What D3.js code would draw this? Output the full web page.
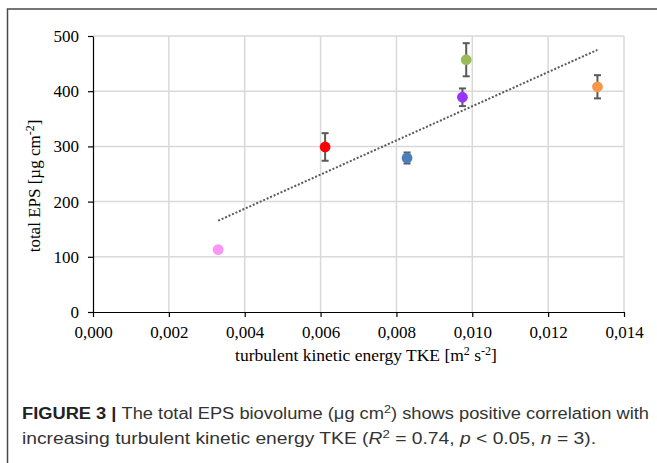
<!DOCTYPE html>
<html>
<head>
<meta charset="utf-8">
<script src="https://cdn.jsdelivr.net/npm/d3@7"></script>
<style>
  html, body { margin: 0; padding: 0; background: #fff; }
  svg { display: block; }
</style>
</head>
<body>
<svg id="chart" width="657" height="463"></svg>
<script>
// ---- data ----
const seriesNames = ["S1", "S2", "S3", "S4", "S5", "S6"];
const tkeValues = [0.00330, 0.00612, 0.00828, 0.00974, 0.00984, 0.01330];
const epsValues = [113, 299, 279, 389, 457, 408];
const epsErrors = [4, 25, 10, 16, 30, 21];
const pointColors = ["#fa96f5", "#ff0000", "#4a7ebb", "#9933ff", "#9bbb59", "#f79646"];
const xTicks = [0, 0.002, 0.004, 0.006, 0.008, 0.010, 0.012, 0.014];
const yTicks = [0, 100, 200, 300, 400, 500];

const svg = d3.select("#chart");
const serif = "'Liberation Serif', 'Times New Roman', serif";
const sans = "'Liberation Sans', Arial, Helvetica, sans-serif";

// outer frame (left and top edges visible; extends beyond the window)
svg.append("rect")
  .attr("x", 7.5).attr("y", 9)
  .attr("width", 700).attr("height", 500)
  .attr("fill", "none").attr("stroke", "#4a4a4a").attr("stroke-width", 1.5);

const x = d3.scaleLinear().domain([0, 0.014]).range([93, 624]);
const y = d3.scaleLinear().domain([0, 500]).range([312, 36]);

// gridlines
const grid = svg.append("g");
grid.selectAll("line.h").data(yTicks.filter(d => d > 0)).join("line")
  .attr("x1", x(0)).attr("x2", x(0.014))
  .attr("y1", d => y(d)).attr("y2", d => y(d))
  .attr("stroke", "#d9d9d9").attr("stroke-width", 1.5);
grid.selectAll("line.v").data(xTicks.filter(d => d > 0)).join("line")
  .attr("y1", y(0)).attr("y2", y(500))
  .attr("x1", d => x(d)).attr("x2", d => x(d))
  .attr("stroke", "#d9d9d9").attr("stroke-width", 1.5);

// axes
const fmt = d => d3.format(".3f")(d).replace(".", ",");
const xAxis = svg.append("g").attr("transform", `translate(0,${y(0)})`)
  .call(d3.axisBottom(x).tickValues(xTicks).tickFormat(fmt).tickSizeInner(5).tickSizeOuter(0).tickPadding(9));
const yAxis = svg.append("g").attr("transform", `translate(${x(0)},0)`)
  .call(d3.axisLeft(y).tickValues(yTicks).tickSizeInner(5).tickSizeOuter(0).tickPadding(9));
[xAxis, yAxis].forEach(a => {
  a.select(".domain").attr("stroke", "#000").attr("stroke-width", 1.2);
  a.selectAll(".tick line").attr("stroke", "#000").attr("stroke-width", 1.2);
  a.selectAll(".tick text").attr("fill", "#000")
    .style("font-family", serif).style("font-size", "17px");
});

// trendline (least squares fit of the data)
const mx = d3.mean(tkeValues), my = d3.mean(epsValues);
const slope = d3.sum(tkeValues, (v, i) => (v - mx) * (epsValues[i] - my)) /
              d3.sum(tkeValues, v => (v - mx) * (v - mx));
const icpt = my - slope * mx;
const x0 = d3.min(tkeValues), x1 = d3.max(tkeValues);
svg.append("line")
  .attr("x1", x(x0)).attr("y1", y(icpt + slope * x0))
  .attr("x2", x(x1)).attr("y2", y(icpt + slope * x1))
  .attr("stroke", "#595959").attr("stroke-width", 2)
  .attr("stroke-dasharray", "2,1.8");

// error bars
const pts = tkeValues.map((v, i) => ({ x: v, y: epsValues[i], e: epsErrors[i], c: pointColors[i], n: seriesNames[i] }));
const eb = svg.append("g").attr("stroke", "#595959").attr("stroke-width", 2);
pts.forEach(p => {
  eb.append("line").attr("x1", x(p.x)).attr("x2", x(p.x)).attr("y1", y(p.y - p.e)).attr("y2", y(p.y + p.e));
  [p.y - p.e, p.y + p.e].forEach(v => {
    eb.append("line").attr("x1", x(p.x) - 3.5).attr("x2", x(p.x) + 3.5).attr("y1", y(v)).attr("y2", y(v));
  });
});

// points
svg.append("g").selectAll("circle").data(pts).join("circle")
  .attr("cx", d => x(d.x)).attr("cy", d => y(d.y)).attr("r", 5.4)
  .attr("fill", d => d.c);

// axis titles
const xt = svg.append("text").attr("x", 366).attr("y", 361).attr("text-anchor", "middle")
  .style("font-family", serif).style("font-size", "17.5px").attr("fill", "#000");
xt.append("tspan").text("turbulent kinetic energy TKE [m");
xt.append("tspan").attr("dy", -6).style("font-size", "12px").text("2");
xt.append("tspan").attr("dy", 6).text(" s");
xt.append("tspan").attr("dy", -6).style("font-size", "12px").text("-2");
xt.append("tspan").attr("dy", 6).text("]");

const yt = svg.append("text").attr("transform", "translate(40,186) rotate(-90)").attr("text-anchor", "middle")
  .style("font-family", serif).style("font-size", "17px").attr("fill", "#000");
yt.append("tspan").text("total EPS [µg cm");
yt.append("tspan").attr("dy", -6).style("font-size", "12px").text("-2");
yt.append("tspan").attr("dy", 6).text("]");

// caption
const cap1 = svg.append("text").attr("x", 22).attr("y", 419)
  .attr("textLength", 627).attr("lengthAdjust", "spacingAndGlyphs")
  .style("font-family", sans).style("font-size", "16px").attr("fill", "#333");
cap1.append("tspan").style("font-weight", "bold").attr("fill", "#222").text("FIGURE 3 | ");
cap1.append("tspan").text("The total EPS biovolume (μg cm");
cap1.append("tspan").attr("dy", -6).style("font-size", "11px").text("2");
cap1.append("tspan").attr("dy", 6).text(") shows positive correlation with");

const cap2 = svg.append("text").attr("x", 22).attr("y", 444)
  .attr("textLength", 574).attr("lengthAdjust", "spacingAndGlyphs")
  .style("font-family", sans).style("font-size", "16px").attr("fill", "#333");
cap2.append("tspan").text("increasing turbulent kinetic energy TKE (");
cap2.append("tspan").style("font-style", "italic").text("R");
cap2.append("tspan").attr("dy", -6).style("font-size", "11px").text("2");
cap2.append("tspan").attr("dy", 6).text(" = 0.74, ");
cap2.append("tspan").style("font-style", "italic").text("p");
cap2.append("tspan").text(" < 0.05, ");
cap2.append("tspan").style("font-style", "italic").text("n");
cap2.append("tspan").text(" = 3).");
</script>
</body>
</html>
